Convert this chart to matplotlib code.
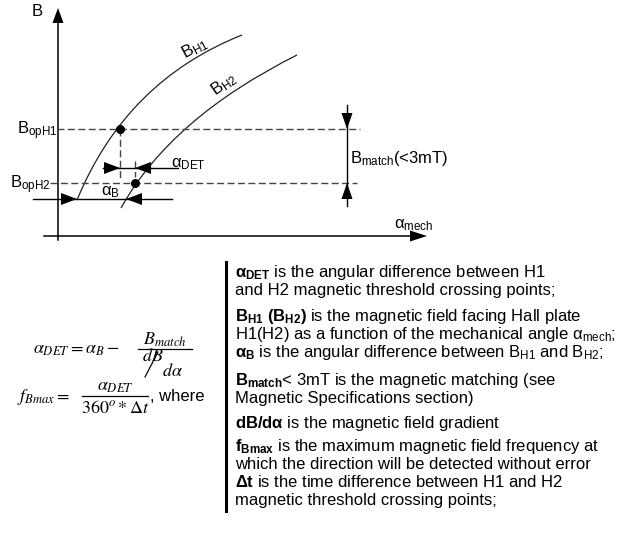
import numpy as np
import matplotlib.pyplot as plt
from matplotlib.path import Path
from matplotlib.patches import PathPatch

plt.rcParams['font.family'] = 'Liberation Sans'
plt.rcParams['mathtext.fontset'] = 'custom'
plt.rcParams['mathtext.rm'] = 'Liberation Sans'
plt.rcParams['mathtext.it'] = 'Liberation Sans:italic'
plt.rcParams['mathtext.bf'] = 'Liberation Sans:bold'
plt.rcParams['lines.scale_dashes'] = False

# geometry of the sketch, in image pixels (y grows downward)
axis_x, axis_y = 58, 236
y_axis_top, x_axis_right = 8, 427
b_op_levels = [129, 183]                 # B_opH1, B_opH2
crossings = [(120, 129), (135, 183)]     # threshold crossing points

# quadratic bezier control points of the two field curves
curve_h1 = [(77, 200), (126, 81), (242, 35)]
curve_h2 = [(121, 208), (171, 118), (297, 55)]

alpha_b_y, alpha_b_tips = 199, (77, 126)
alpha_det_y, alpha_det_tips = 168, (120, 135)
b_match_x = 347

desc_lines = [
    r'$\mathbf{α_{DET}}$ is the angular difference between H1',
    'and H2 magnetic threshold crossing points;',
    r'$\mathbf{B_{H1}\ (B_{H2})}$ is the magnetic field facing Hall plate',
    r'H1(H2) as a function of the mechanical angle α$_{\mathregular{mech}}$;',
    r'$\mathbf{α_B}$ is the angular difference between B$_{\mathregular{H1}}$ and B$_{\mathregular{H2}}$;',
    r'$\mathbf{B_{match}}$< 3mT is the magnetic matching (see',
    'Magnetic Specifications section)',
    r'$\mathbf{dB/dα}$ is the magnetic field gradient',
    r'$\mathbf{f_{Bmax}}$ is the maximum magnetic field frequency at',
    'which the direction will be detected without error',
    r'$\mathbf{Δt}$ is the time difference between H1 and H2',
    'magnetic threshold crossing points;',
]
desc_y = [277, 295, 321, 339, 357, 385, 403, 428, 451, 469, 487, 505]

fs = 12
fig = plt.figure(figsize=(6.41, 5.33), dpi=100)
ax = fig.add_axes([0, 0, 1, 1])
ax.set_xlim(0, 641)
ax.set_ylim(533, 0)
ax.axis('off')


def head(tip, d, length=16, half=6):
    tx, ty = tip
    dx, dy = d
    bx, by = tx - dx * length, ty - dy * length
    px, py = -dy, dx
    ax.fill([tx, bx + px * half, bx - px * half],
            [ty, by + py * half, by - py * half],
            color='black', lw=0, zorder=5)


# axes of the sketch
ax.plot([axis_x, axis_x], [240, y_axis_top + 10], color='black', lw=1.1)
head((axis_x, y_axis_top), (0, -1), 15, 5.5)
ax.plot([44, x_axis_right - 10], [axis_y, axis_y], color='black', lw=1.1)
head((x_axis_right, axis_y), (1, 0), 17, 5.5)
ax.text(37, 11, 'B', fontsize=fs, ha='center', va='center')
ax.text(394, 228, r'α$_{\mathregular{mech}}$', fontsize=fs, ha='left', va='baseline')

# field curves
for pts in (curve_h1, curve_h2):
    path = Path(pts, [Path.MOVETO, Path.CURVE3, Path.CURVE3])
    ax.add_patch(PathPatch(path, fc='none', ec='#222222', lw=0.9))
ax.text(195, 48, r'B$_{\mathregular{H1}}$', fontsize=fs, rotation=28,
        ha='center', va='center')
ax.text(224, 84, r'B$_{\mathregular{H2}}$', fontsize=fs, rotation=35,
        ha='center', va='center')

# threshold levels
ax.plot([57, 360], [b_op_levels[0]] * 2, color='#444444', lw=1.0, dashes=(5, 2.5))
ax.plot([50, 357], [b_op_levels[1]] * 2, color='#444444', lw=1.0, dashes=(5, 2.5))
ax.text(57, b_op_levels[0] + 5, r'B$_{\mathregular{opH1}}$', fontsize=fs,
        ha='right', va='baseline')
ax.text(51, b_op_levels[1] + 5, r'B$_{\mathregular{opH2}}$', fontsize=fs,
        ha='right', va='baseline')
ax.plot([crossings[0][0]] * 2, [crossings[0][1], 178], color='#444444', lw=1.0,
        dashes=(5, 2.5))
ax.plot([crossings[1][0]] * 2, [161, 177], color='#444444', lw=1.0,
        dashes=(5, 2.5))
ax.scatter([c[0] for c in crossings], [c[1] for c in crossings], s=30,
           color='black', zorder=6)

# alpha_DET and alpha_B dimension arrows
ax.plot([103, 178], [alpha_det_y] * 2, color='black', lw=1.0)
head((alpha_det_tips[0], alpha_det_y), (1, 0))
head((alpha_det_tips[1], alpha_det_y), (-1, 0))
ax.text(171, 167, r'α$_{\mathregular{DET}}$', fontsize=fs, ha='left', va='baseline')

ax.plot([33, 172], [alpha_b_y] * 2, color='black', lw=1.0)
head((alpha_b_tips[0], alpha_b_y), (1, 0))
head((alpha_b_tips[1], alpha_b_y), (-1, 0))
ax.text(101, 195, r'α$_{\mathregular{B}}$', fontsize=fs, ha='left', va='baseline')

# B_match dimension
ax.plot([b_match_x] * 2, [105, 206], color='black', lw=1.0)
head((b_match_x, b_op_levels[0]), (0, 1), 16, 5.5)
head((b_match_x, b_op_levels[1]), (0, -1), 16, 5.5)
ax.text(350, 163, r'B$_{\mathregular{match}}$(<3mT)', fontsize=fs,
        ha='left', va='baseline')

# formulas
ax.text(33, 354, r'$\alpha_{DET} = \alpha_B -$', fontsize=13,
        math_fontfamily='stix', va='baseline')
ax.plot([138, 192], [349, 349], color='black', lw=0.9)
ax.text(165, 345, r'$B_{match}$', fontsize=13, math_fontfamily='stix',
        ha='center', va='baseline')
ax.text(142, 361, r'$dB$', fontsize=13, math_fontfamily='stix', va='baseline')
ax.plot([145, 158], [377, 352], color='black', lw=0.9)
ax.text(162, 376, r'$d\alpha$', fontsize=13, math_fontfamily='stix', va='baseline')

ax.text(17, 401, r'$f_{Bmax} =$', fontsize=13, math_fontfamily='stix',
        va='baseline')
ax.plot([82, 148], [396, 396], color='black', lw=0.9)
ax.text(115, 391, r'$\alpha_{DET}$', fontsize=13, math_fontfamily='stix',
        ha='center', va='baseline')
ax.text(115, 413, r'$360^o * \Delta t$', fontsize=13, math_fontfamily='stix',
        ha='center', va='baseline')
ax.text(150, 401, ', where', fontsize=fs, va='baseline')

# description block
ax.plot([226, 226], [262, 511], color='black', lw=2.2)
for txt, y in zip(desc_lines, desc_y):
    ax.text(235, y, txt, fontsize=fs, va='baseline')

fig.savefig('out.png', dpi=100)
